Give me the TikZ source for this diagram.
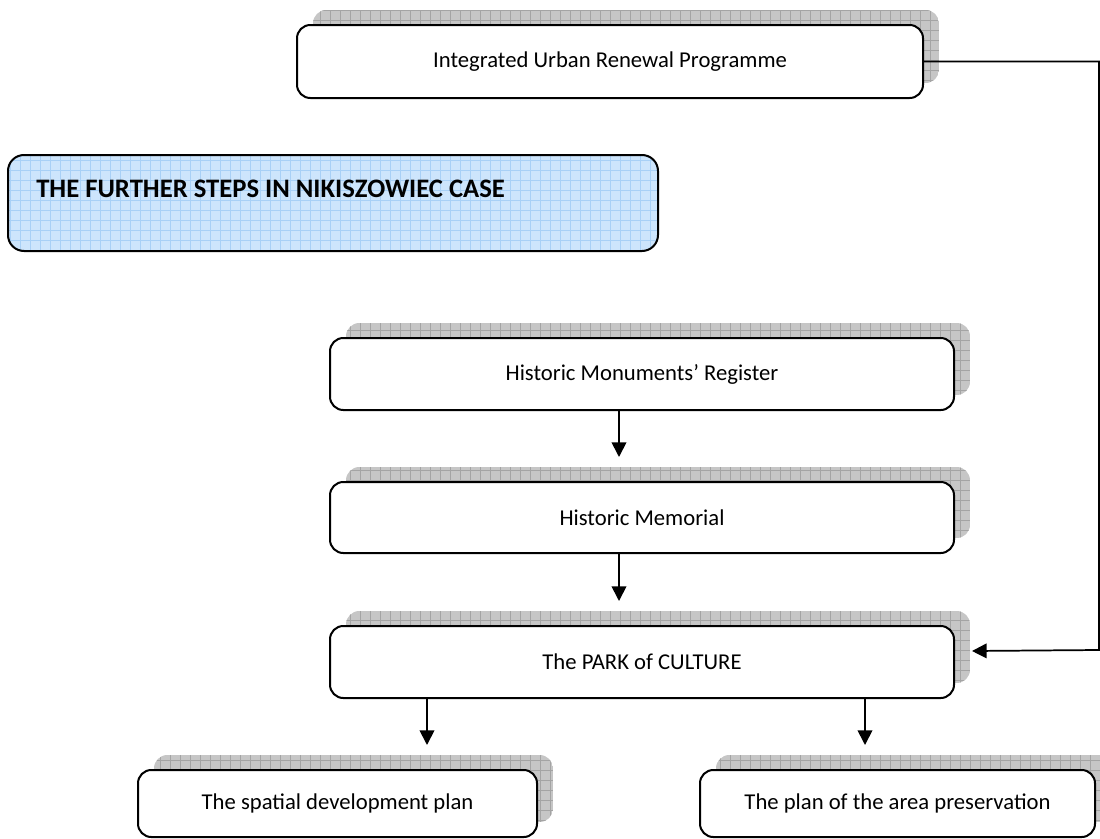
\documentclass[tikz,border=0pt]{standalone}
\usepackage{fontspec}
\setmainfont{Carlito}
\usetikzlibrary{arrows.meta,backgrounds,calc}
\definecolor{shgray}{HTML}{C6C6C6}
\definecolor{shline}{HTML}{A4A4A4}
\definecolor{tblue}{HTML}{CDE5FC}
\definecolor{tline}{HTML}{A8D0F6}
\tikzset{
  wbox/.style={draw=black, fill=white, line width=1.5pt, rounded corners=10pt,
    inner sep=0pt, outer sep=0pt, font=\fontsize{17}{20}\selectfont, align=center},
  tbox/.style={draw=black, line width=1.5pt, rounded corners=12pt, inner sep=0pt, outer sep=0pt},
  arr/.style={line width=1.3pt, -{Triangle[width=11pt,length=11pt]}},
}
\newcommand\ShadowOf[1]{%
  \begin{scope}[on background layer]
    \begin{scope}
      \clip[rounded corners=10pt] ([shift={(16,-15)}]#1.south west) rectangle ([shift={(16,-15)}]#1.north east);
      \fill[shgray] ([shift={(16,-15)}]#1.south west) rectangle ([shift={(16,-15)}]#1.north east);
      \draw[shline, line width=0.5pt, step=7.5pt] ([shift={(16,-15)}]#1.south west) grid ([shift={(16,-15)}]#1.north east);
    \end{scope}
  \end{scope}}
\begin{document}
\begin{tikzpicture}[x=0.75pt,y=-0.75pt]
\clip (0,0) rectangle (1100,839);

% top box
\node[wbox, minimum width=469.5pt, minimum height=54.75pt] (irp) at (610,61.5) {Integrated Urban Renewal Programme};
\ShadowOf{irp}

% title box
\node[tbox, minimum width=487.5pt, minimum height=72pt] (title) at (333,203) {};
\begin{scope}[on background layer]
  \begin{scope}
    \clip[rounded corners=12pt] (title.south west) rectangle (title.north east);
    \fill[tblue] (title.south west) rectangle (title.north east);
    \draw[tline, line width=0.5pt, step=7.5pt] (title.south west) grid (title.north east);
  \end{scope}
\end{scope}
\node[anchor=west, inner sep=0pt, font=\fontsize{20}{24}\selectfont\bfseries] (titletext) at (36,189) {THE FURTHER STEPS IN NIKISZOWIEC CASE};

% chain
\node[wbox, minimum width=468pt, minimum height=54pt] (reg) at (642,374) {Historic Monuments’ Register};
\ShadowOf{reg}
\node[wbox, minimum width=468pt, minimum height=53.25pt] (mem) at (642,517.5) {Historic Memorial};
\ShadowOf{mem}
\node[wbox, minimum width=468pt, minimum height=54pt] (park) at (642,662) {The PARK of CULTURE};
\ShadowOf{park}
\node[wbox, minimum width=299.25pt, minimum height=50.25pt] (spd) at (337.5,803.5) {The spatial development plan};
\ShadowOf{spd}
\node[wbox, minimum width=296.25pt, minimum height=50.25pt] (pap) at (897.5,803.5) {The plan of the area preservation};
\ShadowOf{pap}

% connectors
\coordinate (xa) at (619,0);
\coordinate (xb) at (427,0);
\coordinate (xc) at (865,0);
\draw[arr, shorten >=18.75pt] (reg.south -| xa) -- (mem.north -| xa);
\draw[arr, shorten >=18.75pt] (mem.south -| xa) -- (park.north -| xa);
\draw[arr, shorten >=18.75pt] (park.south -| xb) -- (spd.north -| xb);
\draw[arr, shorten >=18.75pt] (park.south -| xc) -- (pap.north -| xc);
\coordinate (rt) at (1099,650);
\draw[arr] (irp.east) -| (rt) -- ([shift={(18,-11)}]park.east);
\end{tikzpicture}
\end{document}
